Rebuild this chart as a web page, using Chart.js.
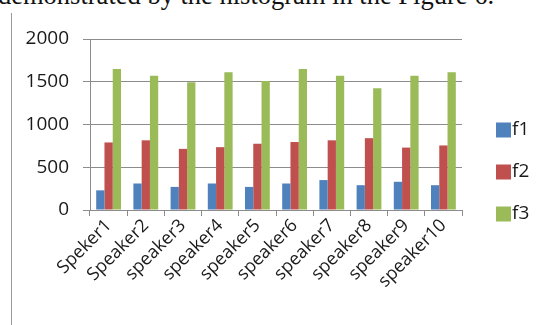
<!DOCTYPE html>
<html>
<head>
<meta charset="utf-8">
<script src="https://cdn.jsdelivr.net/npm/chart.js@4.4.1/dist/chart.umd.min.js"></script>
<style>
  html, body { margin: 0; padding: 0; background: #fff; }
  #wrap { position: relative; width: 550px; height: 325px; overflow: hidden; }
  #caption {
    position: absolute; left: -2px; top: -18px; white-space: nowrap; line-height: 1;
    font-family: "Liberation Serif", "Times New Roman", serif; font-size: 26.5px; color: #111;
  }
  #rule { position: absolute; left: 11px; top: 13px; width: 1px; height: 320px; background: #9a9a9a; }
  #box { position: absolute; left: 0; top: 0; width: 550px; height: 325px; }
</style>
</head>
<body>
<div id="wrap">
  <div id="caption">demonstrated by the histogram in the Figure 6.</div>
  <div id="rule"></div>
  <div id="box"><canvas id="c"></canvas></div>
</div>
<script>
// Speaker categories and formant values (Hz)
const speakers = ["Speker1", "Speaker2", "speaker3", "speaker4", "speaker5",
                  "speaker6", "speaker7", "speaker8", "speaker9", "speaker10"];
const f1 = [230, 310, 270, 310, 270, 310, 350, 290, 330, 290];
const f2 = [790, 815, 715, 735, 775, 795, 815, 840, 730, 755];
const f3 = [1650, 1570, 1495, 1610, 1510, 1650, 1570, 1425, 1570, 1610];
const yTicks = [0, 500, 1000, 1500, 2000];

const FONT = "'Open Sans', 'DejaVu Sans', sans-serif";
const GRID = "#8c8c8c";

// Legend drawn at the right, boxes tight against their labels
const sideLegend = {
  id: "sideLegend",
  afterDraw(chart) {
    const ctx = chart.ctx;
    ctx.save();
    ctx.font = "19px " + FONT;
    ctx.textBaseline = "middle";
    ctx.textAlign = "left";
    const x = 496, y0 = 130, step = 42, sz = 15;
    chart.data.datasets.forEach((ds, i) => {
      const cy = y0 + i * step;
      ctx.fillStyle = ds.backgroundColor;
      ctx.fillRect(x, cy - sz / 2, sz, sz);
      ctx.fillStyle = "#1a1a1a";
      ctx.fillText(ds.label, x + sz + 1, cy);
    });
    ctx.restore();
  }
};

new Chart(document.getElementById("c"), {
  type: "bar",
  data: {
    labels: speakers,
    datasets: [
      { label: "f1", data: f1, backgroundColor: "#4f81bd" },
      { label: "f2", data: f2, backgroundColor: "#c0504d" },
      { label: "f3", data: f3, backgroundColor: "#9bbb59" }
    ]
  },
  options: {
    responsive: true,
    maintainAspectRatio: false,
    animation: false,
    layout: { padding: { top: 39, right: 88, bottom: 0, left: 0 } },
    datasets: { bar: { categoryPercentage: 0.667, barPercentage: 1.0 } },
    plugins: { legend: { display: false }, tooltip: { enabled: false } },
    scales: {
      x: {
        afterFit(scale) { scale.height = 115; },
        grid: { offset: true, drawOnChartArea: false, drawTicks: true, tickLength: 6, color: GRID },
        border: { color: GRID },
        ticks: {
          autoSkip: false, minRotation: 45, maxRotation: 45, padding: -1,
          color: "#1a1a1a", font: { family: FONT, size: 18 }
        }
      },
      y: {
        min: 0, max: 2000,
        afterFit(scale) { scale.width = 90; },
        afterBuildTicks(scale) { scale.ticks = yTicks.map(v => ({ value: v })); },
        grid: { color: GRID, tickLength: 7 },
        border: { color: GRID },
        ticks: {
          padding: 14, color: "#1a1a1a", font: { family: FONT, size: 19 },
          callback: (v) => String(v)
        }
      }
    }
  },
  plugins: [sideLegend]
});
</script>
</body>
</html>
